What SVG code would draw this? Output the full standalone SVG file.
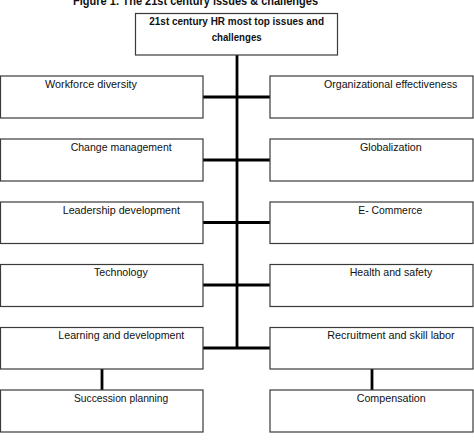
<svg xmlns="http://www.w3.org/2000/svg" width="474" height="446" viewBox="0 0 474 446">
<style>
.box{fill:#fff;stroke:#3a3a3a;stroke-width:1.2}
.t{font-family:"Liberation Sans",Arial,sans-serif;font-size:11px;fill:#111}
.b{font-family:"Liberation Sans",Arial,sans-serif;font-size:11.5px;font-weight:bold;fill:#111}
.c{stroke:#000;stroke-width:2.8;fill:none}
</style>
<rect width="474" height="446" fill="#fff"/>
<text class="b" x="73" y="5" textLength="245" lengthAdjust="spacingAndGlyphs" style="font-size:13px">Figure 1:  The 21st century issues &amp; challenges</text>
<g id="connectors">
<line class="c" x1="237" y1="55" x2="237" y2="349"/>
<line class="c" x1="203" y1="97" x2="270" y2="97"/>
<line class="c" x1="203" y1="160" x2="270" y2="160"/>
<line class="c" x1="203" y1="222.5" x2="270" y2="222.5"/>
<line class="c" x1="203" y1="285" x2="270" y2="285"/>
<line class="c" x1="203" y1="348" x2="270" y2="348"/>
<line class="c" x1="102" y1="369" x2="102" y2="390"/>
<line class="c" x1="372" y1="369" x2="372" y2="390"/>
</g>
<g id="root">
<rect class="box" x="135.5" y="13.5" width="202" height="41.5"/>
<text class="b" x="149.3" y="25" textLength="174.7" lengthAdjust="spacingAndGlyphs">21st century HR most top issues and</text>
<text class="b" x="211.7" y="41" textLength="50" lengthAdjust="spacingAndGlyphs">challenges</text>
</g>
<g id="workforce"><rect class="box" x="0.5" y="76" width="202.5" height="42"/><text class="t" x="45" y="87.5" textLength="92" lengthAdjust="spacingAndGlyphs">Workforce diversity</text></g>
<g id="change"><rect class="box" x="0.5" y="139" width="202.5" height="42"/><text class="t" x="70.7" y="150.7" textLength="101" lengthAdjust="spacingAndGlyphs">Change management</text></g>
<g id="leadership"><rect class="box" x="0.5" y="202" width="202.5" height="41.5"/><text class="t" x="62.7" y="213.5" textLength="117.3" lengthAdjust="spacingAndGlyphs">Leadership development</text></g>
<g id="technology"><rect class="box" x="0.5" y="264.5" width="202.5" height="42"/><text class="t" x="94" y="276" textLength="53.7" lengthAdjust="spacingAndGlyphs">Technology</text></g>
<g id="learning"><rect class="box" x="0.5" y="327.5" width="202.5" height="41.5"/><text class="t" x="58.3" y="339" textLength="126" lengthAdjust="spacingAndGlyphs">Learning and development</text></g>
<g id="succession"><rect class="box" x="0.5" y="390" width="202.5" height="42"/><text class="t" x="74" y="401.7" textLength="94.3" lengthAdjust="spacingAndGlyphs">Succession planning</text></g>
<g id="orgeff"><rect class="box" x="270" y="76" width="203" height="42"/><text class="t" x="324" y="87.5" textLength="133.3" lengthAdjust="spacingAndGlyphs">Organizational effectiveness</text></g>
<g id="globalization"><rect class="box" x="270" y="139" width="203" height="42"/><text class="t" x="360" y="150.7" textLength="61.7" lengthAdjust="spacingAndGlyphs">Globalization</text></g>
<g id="ecommerce"><rect class="box" x="270" y="202" width="203" height="41.5"/><text class="t" x="358.3" y="213.5" textLength="64" lengthAdjust="spacingAndGlyphs">E- Commerce</text></g>
<g id="health"><rect class="box" x="270" y="264.5" width="203" height="42"/><text class="t" x="349.7" y="276" textLength="82.6" lengthAdjust="spacingAndGlyphs">Health and safety</text></g>
<g id="recruitment"><rect class="box" x="270" y="327.5" width="203" height="41.5"/><text class="t" x="327.3" y="339" textLength="127.4" lengthAdjust="spacingAndGlyphs">Recruitment and skill labor</text></g>
<g id="compensation"><rect class="box" x="270" y="390" width="203" height="42"/><text class="t" x="356.7" y="401.7" textLength="69" lengthAdjust="spacingAndGlyphs">Compensation</text></g>
</svg>
